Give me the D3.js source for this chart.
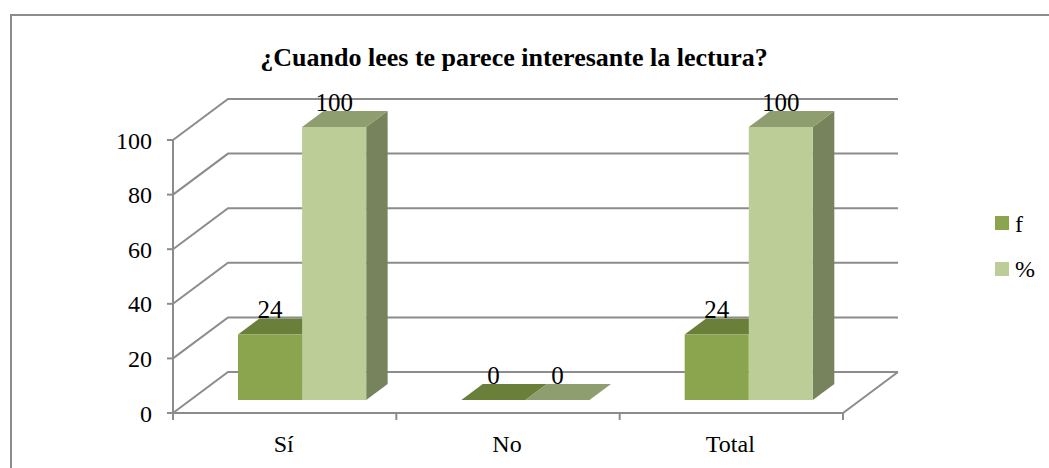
<!DOCTYPE html>
<html>
<head>
<meta charset="utf-8">
<script src="https://cdn.jsdelivr.net/npm/d3@7"></script>
<style>
    body { margin: 0; background: #fff; }
    svg { display: block; }
    .grid { stroke: #8c8c8c; stroke-width: 2; fill: none; }
</style>
</head>
<body>
<svg id="chart" width="1049" height="468"></svg>
<script>
    var categories = ['Sí', 'No', 'Total'];
    var series = ['f', '%'];
    var fValues = [24, 0, 24];
    var pctValues = [100, 0, 100];
    var yTicks = [0, 20, 40, 60, 80, 100];
    var title = '¿Cuando lees te parece interesante la lectura?';

    var colors = {
        f: { front: '#8aa54e', top: '#6a7f3a', side: '#6f8540' },
        '%': { front: '#bccd97', top: '#8e9e6f', side: '#77835c' }
    };

    var FONT = "'Liberation Serif'";

    var svg = d3.select('#chart');

    function label($parent) {
        return $parent.append('text').style('font-family', FONT).attr('fill', '#000');
    }

    // wall depth (3d offset) and bar depth inside it
    var depth = [55, -41],
        barNear = 0.317,
        barFar = 0.707;

    var x = d3.scaleBand().domain(categories).range([173, 843]),
        xs = d3.scaleBand().domain(series)
            .range([x.bandwidth() * 0.213, x.bandwidth() * 0.787]),
        y = d3.scaleLinear().domain([0, 100]).range([413, 140]);

    // frame
    svg.append('rect')
        .attr('x', 11).attr('y', 15)
        .attr('width', 1100).attr('height', 500)
        .attr('fill', 'none')
        .attr('stroke', '#8c8c8c')
        .attr('stroke-width', 2);

    label(svg)
        .attr('x', 514).attr('y', 66)
        .attr('text-anchor', 'middle')
        .attr('font-weight', 'bold')
        .attr('font-size', 26)
        .text(title);

    var x0 = x.range()[0], x1 = x.range()[1];

    // side wall + back wall gridlines
    var $grid = svg.append('g');
    yTicks.forEach(function (t) {
        $grid.append('polyline')
            .attr('class', 'grid')
            .attr('points', [
                [x0, y(t)],
                [x0 + depth[0], y(t) + depth[1]],
                [x1 + depth[0], y(t) + depth[1]]
            ].join(' '));
    });

    // floor
    $grid.append('polyline')
        .attr('class', 'grid')
        .attr('points', [
            [x0, y(0)], [x1, y(0)], [x1 + depth[0], y(0) + depth[1]]
        ].join(' '));

    // y axis
    $grid.append('line').attr('class', 'grid')
        .attr('x1', x0).attr('x2', x0)
        .attr('y1', y(100)).attr('y2', y(0) + 7);
    yTicks.forEach(function (t) {
        $grid.append('line').attr('class', 'grid')
            .attr('x1', x0 - 6).attr('x2', x0)
            .attr('y1', y(t)).attr('y2', y(t));
        label(svg)
            .attr('x', 152).attr('y', y(t) + 8.5)
            .attr('text-anchor', 'end')
            .attr('font-size', 24)
            .text(t);
    });

    // x ticks + labels
    categories.forEach(function (c) {
        $grid.append('line').attr('class', 'grid')
            .attr('x1', x(c) + x.bandwidth()).attr('x2', x(c) + x.bandwidth())
            .attr('y1', y(0)).attr('y2', y(0) + 7);
        label(svg)
            .attr('x', x(c) + x.bandwidth() / 2 - 1)
            .attr('y', y(0) + 39)
            .attr('text-anchor', 'middle')
            .attr('font-size', 24)
            .text(c);
    });

    // bars
    var $bars = svg.append('g');
    var dxN = depth[0] * barNear, dyN = depth[1] * barNear,
        dxB = depth[0] * (barFar - barNear), dyB = depth[1] * (barFar - barNear);

    categories.forEach(function (c, i) {
        var vals = { f: fValues[i], '%': pctValues[i] };
        series.forEach(function (s) {
            var v = vals[s],
                l = x(c) + xs(s) + dxN,
                r = l + xs.bandwidth(),
                top = y(v) + dyN,
                bot = y(0) + dyN,
                col = colors[s];

            $bars.append('polygon')
                .attr('fill', col.side)
                .attr('points', [[r, top], [r + dxB, top + dyB], [r + dxB, bot + dyB], [r, bot]].join(' '));
            $bars.append('polygon')
                .attr('fill', col.top)
                .attr('points', [[l, top], [l + dxB, top + dyB], [r + dxB, top + dyB], [r, top]].join(' '));
            $bars.append('rect')
                .attr('fill', col.front)
                .attr('x', l).attr('y', top)
                .attr('width', r - l).attr('height', bot - top);

            label(svg)
                .attr('x', (l + r) / 2)
                .attr('y', top - 16.5)
                .attr('text-anchor', 'middle')
                .attr('font-size', 25)
                .text(v);
        });
    });

    // legend
    var $legend = svg.append('g');
    series.forEach(function (s, i) {
        $legend.append('rect')
            .attr('x', 995).attr('y', 216 + i * 46)
            .attr('width', 14).attr('height', 14)
            .attr('fill', colors[s].front);
        label($legend)
            .attr('x', 1015).attr('y', 232 + i * 45)
            .attr('font-size', 24)
            .text(s);
    });
</script>
</body>
</html>
